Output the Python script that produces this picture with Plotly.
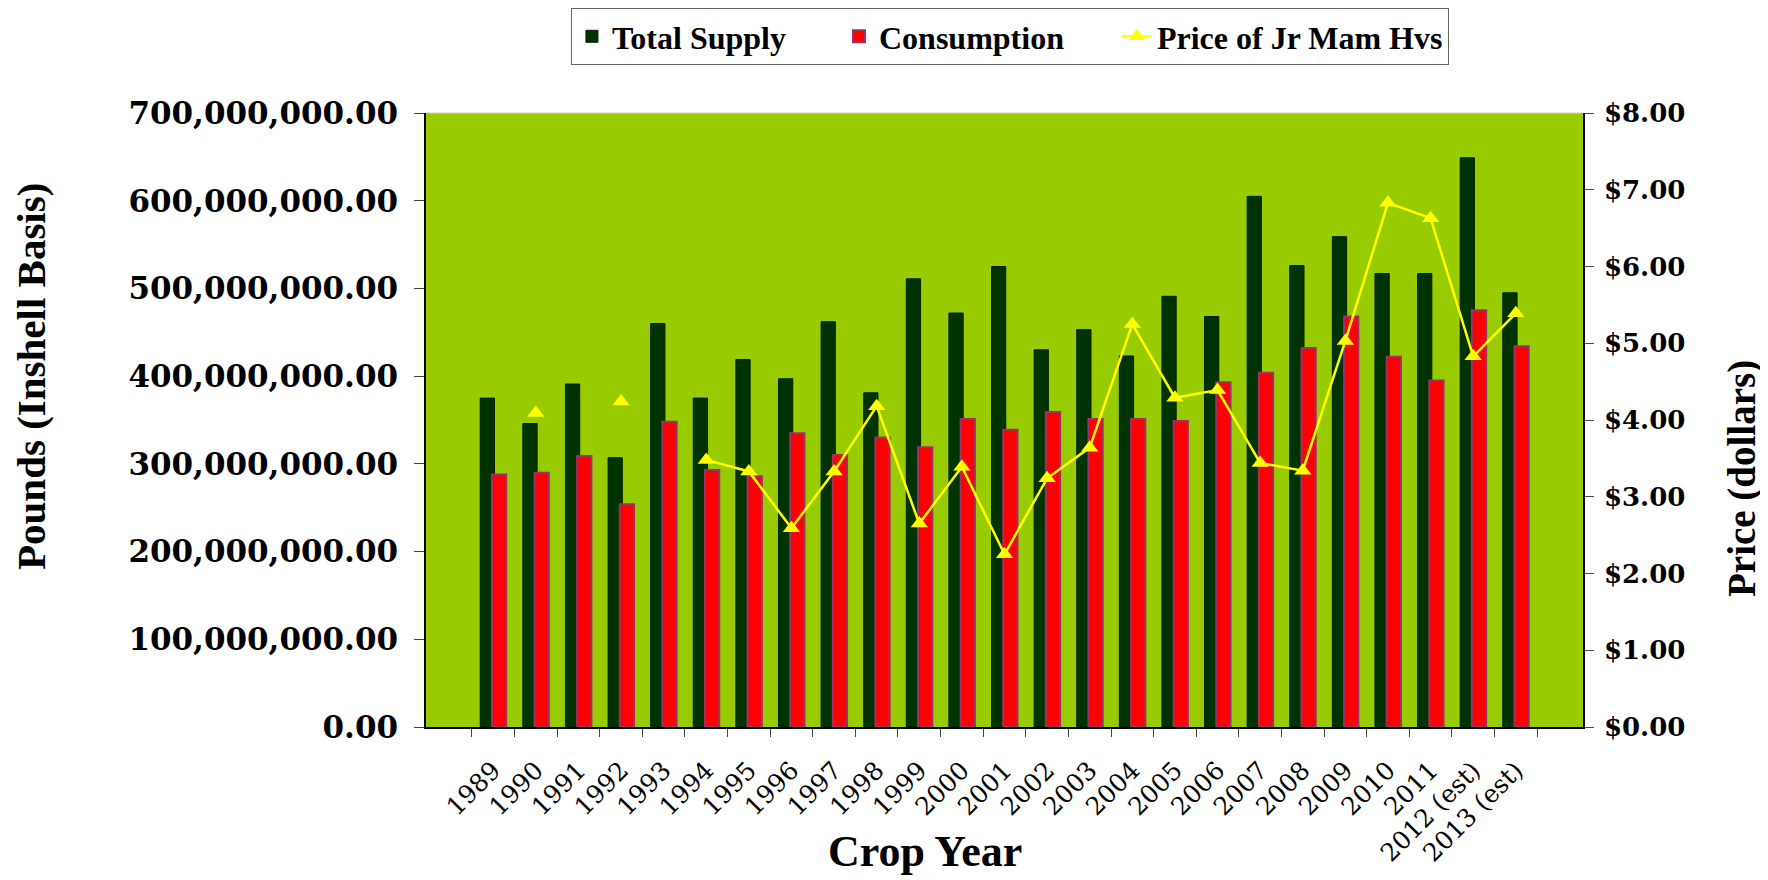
import plotly.graph_objects as go

# Crop years on the x axis
crop_years = ['1989', '1990', '1991', '1992', '1993', '1994', '1995', '1996',
              '1997', '1998', '1999', '2000', '2001', '2002', '2003', '2004',
              '2005', '2006', '2007', '2008', '2009', '2010', '2011',
              '2012 (est)', '2013 (est)']

# Pounds, inshell basis
total_supply = [375e6, 346e6, 391e6, 307e6, 460e6, 375e6, 419e6, 397e6,
                462e6, 381e6, 511e6, 472e6, 525e6, 430e6, 453e6, 423e6,
                491e6, 468e6, 605e6, 526e6, 559e6, 517e6, 517e6, 649e6, 495e6]
consumption = [288e6, 290e6, 309e6, 254e6, 348e6, 293e6, 286e6, 335e6,
               310e6, 330e6, 319e6, 351e6, 339e6, 359e6, 351e6, 351e6,
               349e6, 393e6, 404e6, 432e6, 468e6, 422e6, 395e6, 475e6, 434e6]

# Price of Jr Mam Hvs in dollars (None where no point is drawn)
price = [None, 4.09, None, 4.24, None, 3.48, 3.33, 2.59, 3.33, 4.18,
         2.65, 3.39, 2.25, 3.24, 3.64, 5.25, 4.29, 4.39, 3.44, 3.34,
         5.03, 6.83, 6.63, 4.83, 5.39]

SERIF = 'DejaVu Serif'
TITLE_FONT = 'Liberation Serif'
PAD = '\u00a0' * 6  # spacing between legend entries

fig = go.Figure()
fig.add_trace(go.Bar(x=crop_years, y=total_supply, name='Total Supply' + PAD,
                     width=0.335, offset=-0.305,
                     marker=dict(color='#003300', line=dict(color='#002200', width=1))))
fig.add_trace(go.Bar(x=crop_years, y=consumption, name='Consumption' + PAD,
                     width=0.335, offset=-0.03,
                     marker=dict(color='#FF0000', line=dict(color='#993366', width=2))))
fig.add_trace(go.Scatter(x=crop_years, y=price, name='Price of Jr Mam Hvs',
                         yaxis='y2', mode='lines+markers', connectgaps=False,
                         line=dict(color='#FFFF00', width=2.5),
                         marker=dict(symbol='triangle-up', size=15, color='#FFFF00')))

# the page body adds an 8px margin, so the figure is 8px smaller than the window
fig.update_layout(
    width=1760, height=872,
    margin=dict(l=418, r=185, t=105, b=153, autoexpand=False),
    paper_bgcolor='white',
    plot_bgcolor='#99CC00',
    barmode='group',
    showlegend=True,
    legend=dict(orientation='h', x=0.5047, xanchor='center', y=1.171, yanchor='top',
                bgcolor='white', bordercolor='#666666', borderwidth=1,
                font=dict(family=TITLE_FONT, size=32, color='black', weight='bold'),
                itemwidth=30, traceorder='normal'),
    xaxis=dict(type='category', showgrid=False, showline=True, linecolor='black',
               linewidth=1.5, ticks='outside', tickson='boundaries', ticklen=8,
               tickcolor='#444444', tickangle=-45, automargin=False,
               ticklabelstandoff=17,
               tickfont=dict(family=SERIF, size=25, color='black')),
    yaxis=dict(range=[0, 700e6], dtick=100e6, tickformat=',.2f', showgrid=False,
               zeroline=False, showline=True, linecolor='black', linewidth=1.5,
               ticks='outside', ticklen=10, tickcolor='#444444', automargin=False,
               ticklabelstandoff=10,
               tickfont=dict(family=SERIF, size=31, color='black', weight='bold')),
    yaxis2=dict(range=[0, 8], dtick=1, tickformat='.2f', tickprefix='$',
                overlaying='y', side='right', showgrid=False, zeroline=False,
                showline=True, linecolor='black', linewidth=1.5,
                ticks='outside', ticklen=9, tickcolor='#444444', automargin=False,
                ticklabelstandoff=5,
                tickfont=dict(family=SERIF, size=26, color='black', weight='bold')),
    shapes=[dict(type='line', xref='paper', yref='paper', x0=0, x1=1, y0=1, y1=1,
                 line=dict(color='#CCCCCC', width=1))],
    annotations=[
        dict(text='Pounds (Inshell Basis)', xref='paper', yref='paper',
             x=-0.3414, y=0.570, textangle=-90, showarrow=False,
             xanchor='center', yanchor='middle',
             font=dict(family=TITLE_FONT, size=41, color='black', weight='bold')),
        dict(text='Price (dollars)', xref='paper', yref='paper',
             x=1.1374, y=0.4055, textangle=-90, showarrow=False,
             xanchor='center', yanchor='middle',
             font=dict(family=TITLE_FONT, size=39, color='black', weight='bold')),
        dict(text='Crop Year', xref='paper', yref='paper',
             x=0.431, y=-0.2455, showarrow=False,
             xanchor='center', yanchor='bottom',
             font=dict(family=TITLE_FONT, size=44, color='black', weight='bold')),
    ],
)

fig.write_html('out.html')
